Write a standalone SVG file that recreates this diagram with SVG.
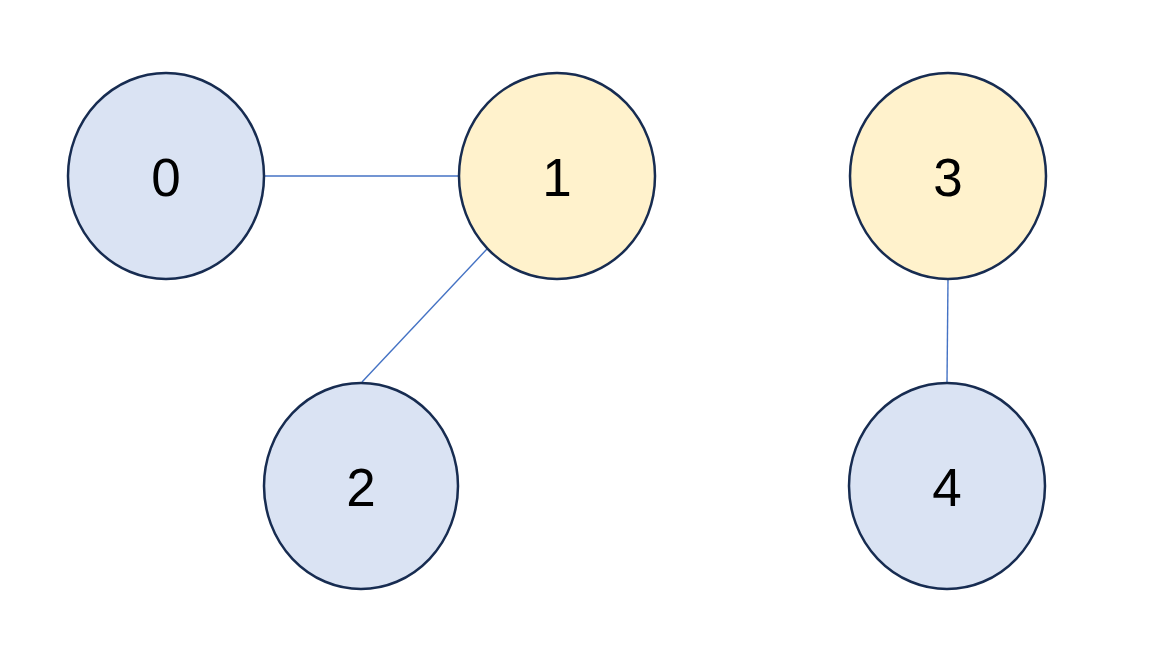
<svg xmlns="http://www.w3.org/2000/svg" width="1158" height="659" viewBox="0 0 1158 659">
<style>
.node{stroke:#172C51;stroke-width:2.5}
.blue{fill:#DAE3F3}
.yellow{fill:#FFF2CC}
.edge{stroke:#4472C4;stroke-width:1.4;fill:none}
.lbl{font-family:"Liberation Sans",Arial,sans-serif;font-size:53px;fill:#000;text-anchor:middle}
</style>
<rect width="1158" height="659" fill="#fff"/>
<g id="connectors">
<line class="edge" x1="264" y1="176" x2="459" y2="176"/>
<line class="edge" x1="487" y1="249" x2="362" y2="382"/>
<line class="edge" x1="948" y1="279" x2="947" y2="382"/>
</g>
<g id="node0"><ellipse class="node blue" cx="166" cy="176" rx="98" ry="103"/><text class="lbl" x="166" y="196">0</text></g>
<g id="node1"><ellipse class="node yellow" cx="557" cy="176" rx="98" ry="103"/><text class="lbl" x="557" y="196">1</text></g>
<g id="node3"><ellipse class="node yellow" cx="948" cy="176" rx="98" ry="103"/><text class="lbl" x="948" y="196">3</text></g>
<g id="node2"><ellipse class="node blue" cx="361" cy="486" rx="97" ry="103"/><text class="lbl" x="361" y="506">2</text></g>
<g id="node4"><ellipse class="node blue" cx="947" cy="486" rx="98" ry="103"/><text class="lbl" x="947" y="506">4</text></g>
</svg>
